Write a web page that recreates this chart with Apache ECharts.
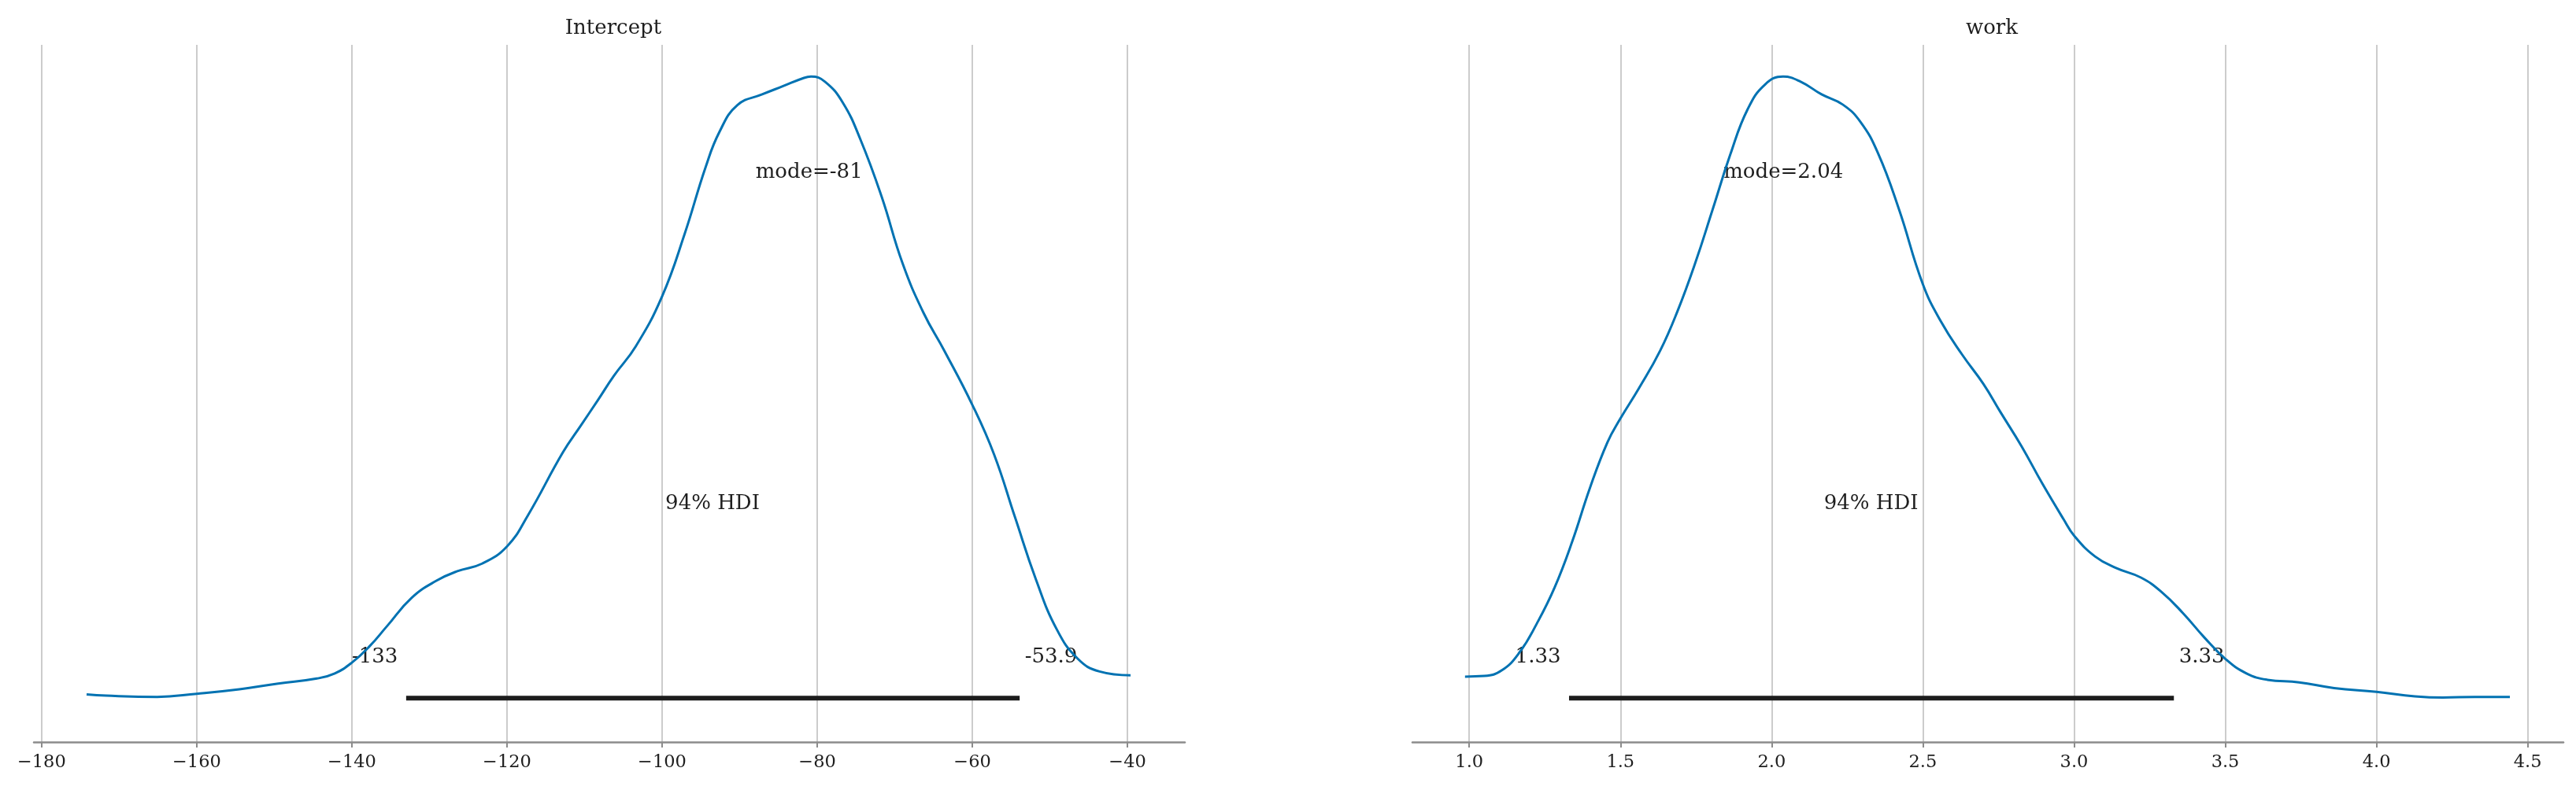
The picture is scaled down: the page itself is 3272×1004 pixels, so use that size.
<!DOCTYPE html>
<html>
<head>
<meta charset="utf-8">
<script src="https://cdn.jsdelivr.net/npm/echarts@6/dist/echarts.min.js"></script>
<style>
  html, body { margin: 0; padding: 0; background: #ffffff; }
  #chart { width: 3272px; height: 1004px; }
</style>
</head>
<body>
<div id="chart"></div>
<script>
// ---------- data ----------
const panelTitles = ['Intercept', 'work'];

const interceptX = [-174.2,-171.7,-165.1,-160,-154.5,-149.5,-144.5,-142.2,-140,-137.7,-135.5,-132.3,-129.1,-126.4,-123.2,-120,-117.3,-112.8,-110.5,-108.3,-106.2,-103.4,-100,-97.1,-94.4,-92.6,-90.3,-87.1,-84.4,-81.7,-80.8,-79,-76.7,-74.4,-71.7,-69,-66.3,-63.6,-60,-57.2,-54.5,-51.8,-49.1,-46.4,-43.6,-39.6];
const interceptDensity = [0.027,0.025,0.023,0.028,0.035,0.044,0.052,0.060,0.077,0.103,0.134,0.179,0.206,0.221,0.233,0.260,0.309,0.408,0.450,0.490,0.529,0.575,0.654,0.752,0.857,0.913,0.955,0.972,0.985,0.998,1.0,0.992,0.959,0.900,0.811,0.706,0.628,0.568,0.483,0.405,0.306,0.208,0.129,0.083,0.063,0.057];

const workX = [0.986,1.05,1.108,1.166,1.224,1.282,1.340,1.399,1.457,1.498,1.561,1.631,1.689,1.747,1.805,1.863,1.921,1.979,2.038,2.096,2.165,2.235,2.293,2.351,2.421,2.5,2.560,2.630,2.700,2.756,2.826,2.895,2.965,3.0,3.07,3.139,3.221,3.290,3.360,3.430,3.5,3.570,3.639,3.744,3.860,4.0,4.127,4.220,4.325,4.441];
const workDensity = [0.055,0.056,0.065,0.093,0.139,0.195,0.267,0.352,0.424,0.460,0.509,0.568,0.631,0.706,0.791,0.877,0.949,0.988,1.0,0.992,0.972,0.956,0.929,0.880,0.791,0.673,0.614,0.562,0.516,0.472,0.418,0.359,0.303,0.277,0.244,0.226,0.211,0.188,0.155,0.117,0.083,0.060,0.050,0.046,0.037,0.031,0.024,0.022,0.023,0.023];

const interceptHdi = [-133, -53.9];
const workHdi = [1.33, 3.33];
const interceptMode = -81;
const workMode = 2.04;
const hdiLabel = '94% HDI';

const interceptTicks = [-180, -160, -140, -120, -100, -80, -60, -40];
const workTicks = [1.0, 1.5, 2.0, 2.5, 3.0, 3.5, 4.0, 4.5];

// ---------- styling ----------
const FONT = "'DejaVu Serif', 'Liberation Serif', serif";
const TEXT = '#1e1e1e';
const BLUE = '#0072B2';

function zip(xs, ys) { return xs.map((x, i) => [x, ys[i]]); }
function tickFmtNeg(v) { return v < 0 ? '\u2212' + Math.abs(v) : String(v); }
function tickFmtDec(v) { return Number(v).toFixed(1); }

function xAxisFor(gridIndex, min, max, ticks, fmt) {
  return {
    type: 'value', gridIndex, min, max,
    axisLine: { show: true, onZero: false, lineStyle: { color: '#8c8c8c', width: 2.5 } },
    axisTick: { show: true, length: 7, lineStyle: { color: '#8c8c8c', width: 2 }, customValues: ticks },
    axisLabel: { show: true, customValues: ticks, formatter: fmt, margin: 15,
      fontFamily: FONT, fontSize: 22.5, color: TEXT },
    splitLine: { show: true, lineStyle: { color: '#cccccc', width: 2 } }
  };
}
function yAxisFor(gridIndex) {
  return { type: 'value', gridIndex, min: -0.048, max: 1.05, show: false,
    splitLine: { show: false } };
}

function labelSeries(idx, items) {
  return {
    type: 'scatter', xAxisIndex: idx, yAxisIndex: idx, silent: true,
    symbolSize: 1, itemStyle: { color: 'rgba(255,255,255,0)', opacity: 1 },
    data: items.map(it => ({
      value: [it.x, it.y],
      label: {
        show: true, position: [0, 0], formatter: it.text, opacity: 1,
        align: it.align, verticalAlign: 'middle', offset: [it.dx || 0, 0],
        fontFamily: FONT, fontSize: 26, color: TEXT
      }
    }))
  };
}

function panelSeries(idx, xs, ys, hdi, mode) {
  const peak = Math.max.apply(null, ys);
  const fmtHdi = v => String(v);
  return [
    { type: 'line', xAxisIndex: idx, yAxisIndex: idx, data: zip(xs, ys),
      smooth: 0.45, showSymbol: false, symbol: 'none',
      lineStyle: { color: BLUE, width: 3 }, silent: true },
    { type: 'line', xAxisIndex: idx, yAxisIndex: idx,
      data: [[hdi[0], 0.021 * peak], [hdi[1], 0.021 * peak]],
      showSymbol: false, symbol: 'none', silent: true,
      lineStyle: { color: '#1c1c1c', width: 6, cap: 'butt' } },
    labelSeries(idx, [
      { x: mode, y: 0.848 * peak, text: 'mode=' + mode, align: 'center' },
      { x: (hdi[0] + hdi[1]) / 2, y: 0.327 * peak, text: hdiLabel, align: 'center' },
      { x: hdi[0], y: 0.0855 * peak, text: fmtHdi(hdi[0]), align: 'right', dx: -10 },
      { x: hdi[1], y: 0.0855 * peak, text: fmtHdi(hdi[1]), align: 'left', dx: 7 }
    ])
  ];
}

const option = {
  animation: false,
  backgroundColor: '#ffffff',
  title: [
    { text: panelTitles[0], left: 774, top: 18, textAlign: 'center',
      textStyle: { fontFamily: FONT, fontSize: 26, fontWeight: 'normal', color: TEXT } },
    { text: panelTitles[1], left: 2525, top: 18, textAlign: 'center',
      textStyle: { fontFamily: FONT, fontSize: 26, fontWeight: 'normal', color: TEXT } }
  ],
  grid: [
    { left: 43, top: 57, width: 1462, height: 886 },
    { left: 1794, top: 57, width: 1462, height: 886 }
  ],
  xAxis: [
    xAxisFor(0, -181.0, -32.6, interceptTicks, tickFmtNeg),
    xAxisFor(1, 0.812, 4.618, workTicks, tickFmtDec)
  ],
  yAxis: [yAxisFor(0), yAxisFor(1)],
  series: [].concat(
    panelSeries(0, interceptX, interceptDensity, interceptHdi, interceptMode),
    panelSeries(1, workX, workDensity, workHdi, workMode)
  )
};

const chart = echarts.init(document.getElementById('chart'), null, { renderer: 'canvas' });
chart.setOption(option);
</script>
</body>
</html>
